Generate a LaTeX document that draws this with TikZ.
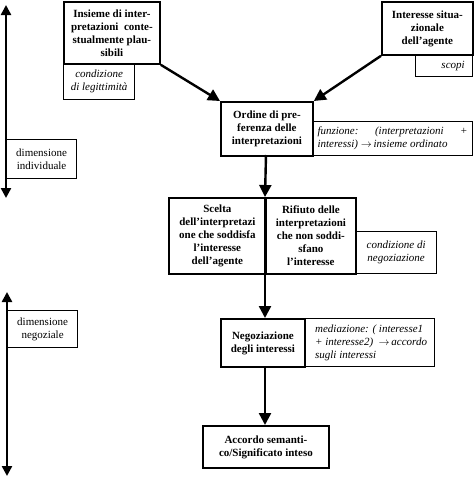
\documentclass[tikz,border=0pt]{standalone}
\usepackage{fontspec}
\setmainfont{Liberation Serif}
\usetikzlibrary{arrows.meta}
\tikzset{
  mainbox/.style={draw, line width=1.8pt, anchor=north west, inner sep=0pt, align=center,
    font=\bfseries\fontsize{11}{13}\selectfont},
  notebox/.style={draw, line width=1.2pt, anchor=north west, inner sep=0pt, align=center,
    font=\itshape\fontsize{11}{13}\selectfont},
  dimbox/.style={draw, line width=1.2pt, anchor=north west, inner sep=0pt, align=center,
    font=\fontsize{11}{13}\selectfont},
  flow/.style={line width=2.4pt, -{Triangle[length=12pt,width=12pt]}},
  dimarrow/.style={line width=2.4pt, {Triangle[length=10pt,width=10pt]}-{Triangle[length=10pt,width=10pt]}},
}
\begin{document}
\begin{tikzpicture}[x=1pt,y=-1pt]
\useasboundingbox (0,0) rectangle (474,477);

% left dimension arrows
\coordinate (d1t) at (6,5);
\coordinate (d1b) at (6,198);
\coordinate (d2t) at (7,292);
\coordinate (d2b) at (7,476);
\draw[dimarrow] (d1t) -- (d1b);
\draw[dimarrow] (d2t) -- (d2b);
\node[dimbox, minimum width=70pt, minimum height=39pt] (dind) at (6,139) {dimensione\\individuale};
\node[dimbox, minimum width=70pt, minimum height=37pt] (dneg) at (7,310) {dimensione\\negoziale};

% top boxes
\node[mainbox, minimum width=96pt, minimum height=62pt] (A) at (63,1)
  {Insieme di inter-\\pretazioni\ \ conte-\\stualmente plau-\\sibili};
\node[notebox, minimum width=71pt, minimum height=36pt] (condA) at (63,63)
  {condizione\\di legittimità};
\node[mainbox, minimum width=91pt, minimum height=53pt] (B) at (381,1)
  {Interesse situa-\\zionale\\dell’agente};
\node[notebox, minimum width=57pt, minimum height=22pt] (scopi) at (415,54)
  {\hspace*{18pt}scopi};

% ordine
\node[mainbox, minimum width=92pt, minimum height=54pt] (C) at (220,101)
  {Ordine di pre-\\ferenza delle\\interpretazioni};
\node[notebox, minimum width=160pt, minimum height=34pt, align=left] (funz) at (312,121)
  {\hbox to 150pt{funzione:\hfill(interpretazioni\hfill+}\\
   \hbox to 150pt{interessi) $\rightarrow$\,insieme ordinato\hfill}};

% scelta / rifiuto
\node[mainbox, minimum width=97pt, minimum height=76pt] (D) at (168,197)
  {Scelta\\dell’interpretazi\\one che soddisfa\\l’interesse\\dell’agente};
\node[mainbox, minimum width=90pt, minimum height=76pt] (E) at (265,197)
  {Rifiuto delle\\interpretazioni\\che non soddi-\\sfano\\l’interesse};
\node[notebox, minimum width=81pt, minimum height=42pt] (condN) at (355,231)
  {condizione di\\negoziazione};

% negoziazione
\node[mainbox, minimum width=84pt, minimum height=48pt] (F) at (220,318)
  {Negoziazione\\degli interessi};
\node[notebox, minimum width=130pt, minimum height=48pt, align=left] (med) at (304,318)
  {\hspace*{3pt}mediazione: ( interesse1\\\hspace*{3pt}+ interesse2)\ \ $\rightarrow$\,accordo\\\hspace*{3pt}sugli interessi\hspace*{40pt}};

% accordo
\node[mainbox, minimum width=126pt, minimum height=42pt] (G) at (202,425)
  {Accordo semanti-\\co/Significato inteso};

% connectors
\draw[flow] (A.south east) -- (C.north west);
\draw[flow] (B.south west) -- (C.north east);
\coordinate (s1) at (266,155);
\coordinate (s2) at (265,197);
\coordinate (s3) at (265,273);
\coordinate (s4) at (265,318);
\coordinate (s5) at (265,366);
\coordinate (s6) at (265,425);
\draw[flow] (s1) -- (s2);
\draw[line width=1.8pt] (s2) -- (s3);
\draw[flow] (s3) -- (s4);
\draw[flow] (s5) -- (s6);
\end{tikzpicture}
\end{document}
